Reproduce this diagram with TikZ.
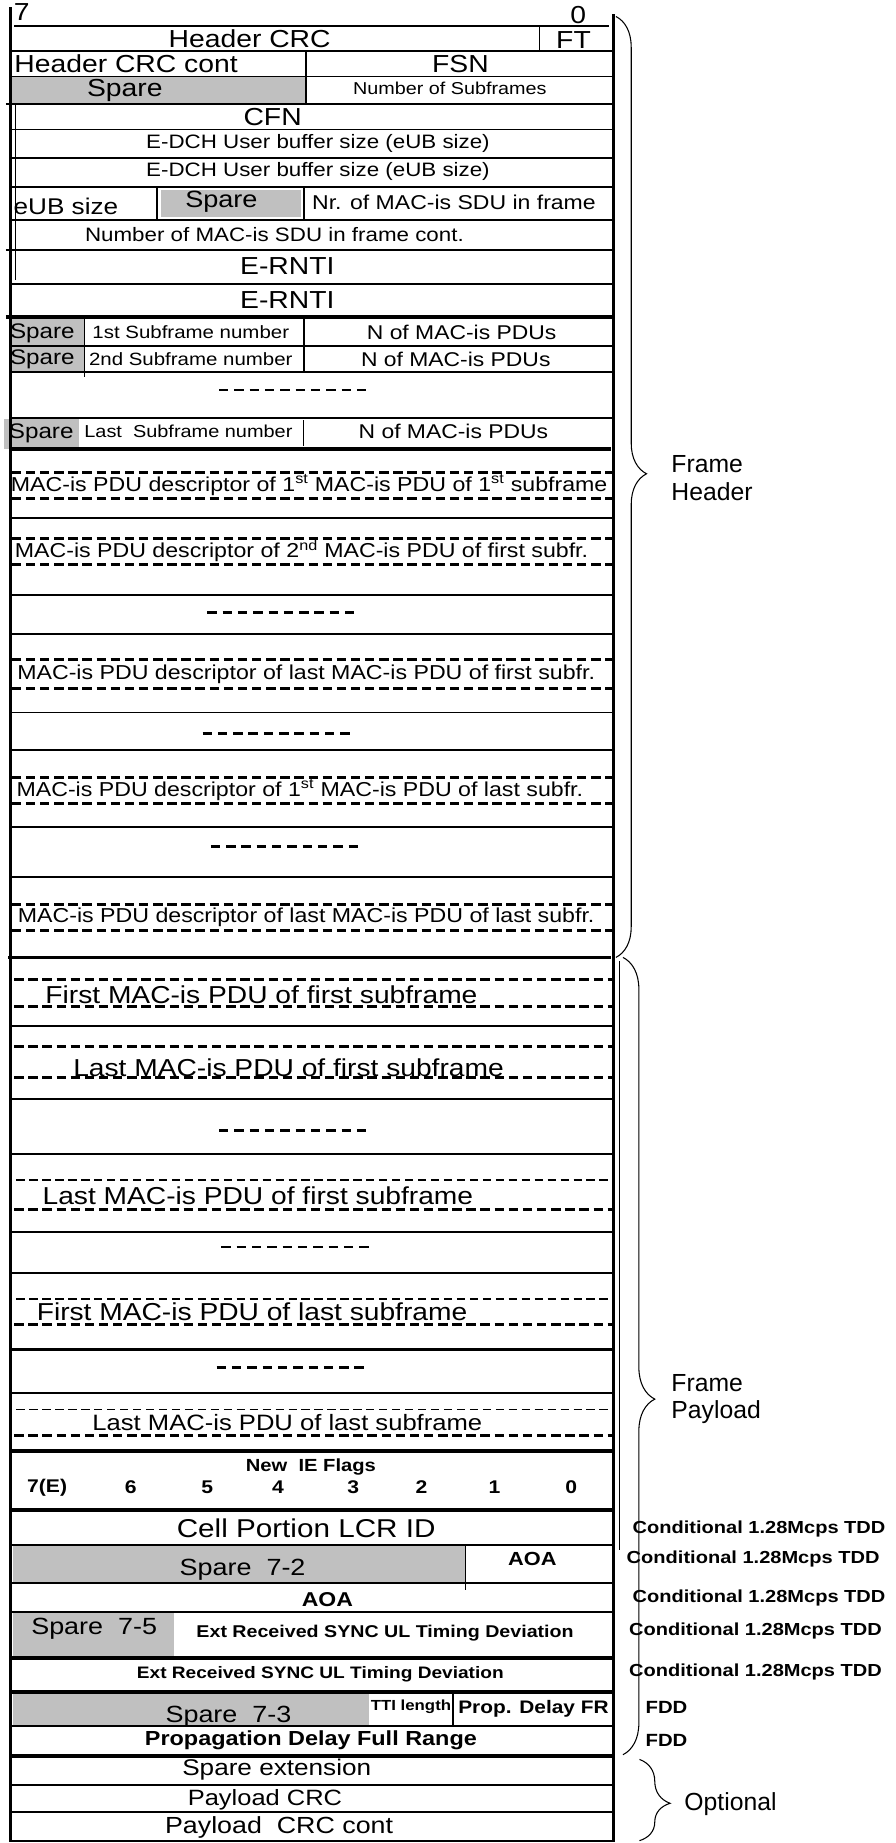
\documentclass[tikz,border=0pt]{standalone}
\usepackage{fontspec}
\setmainfont[FakeStretch=1.15]{Liberation Sans}
\newfontfamily\plainfont{Liberation Sans}
\usetikzlibrary{decorations.pathreplacing}
\definecolor{SpareGray}{HTML}{C0C0C0}

\begin{document}
\begin{tikzpicture}[x=1pt, y=-1pt,
    tx/.style={inner sep=0pt, font=\fontsize{#1}{#1}\selectfont},
    bx/.style={inner sep=0pt, font=\fontsize{#1}{#1}\selectfont\bfseries},
    side/.style={inner sep=0pt, anchor=west, align=left,
      font=\plainfont\fontsize{21}{23}\selectfont},
    rowline/.style={line width=1.6pt},
    heavyline/.style={line width=3.2pt},
    border/.style={line width=2.4pt},
    thinline/.style={line width=0.8pt},
    cutline/.style={line width=2.6pt, dash pattern=on 8pt off 4pt},
    cutlinethin/.style={line width=1.3pt, dash pattern=on 7pt off 4pt},
    gapmark/.style={line width=2.2pt, dash pattern=on 8pt off 5pt},
    curly/.style={line width=0.9pt, decorate}]
  % Page
  \useasboundingbox (0,0) rectangle (760,1565);
  \fill[white] (0,0) rectangle (760,1565);
  % Spare fields
  \fill[SpareGray] (10,65) rectangle (260,88);
  \fill[SpareGray] (137,161) rectangle (256,184);
  \fill[SpareGray] (9,271) rectangle (71,294);
  \fill[SpareGray] (9,295) rectangle (71,316);
  \fill[SpareGray] (3,356) rectangle (67,381);
  \fill[SpareGray] (11,1312) rectangle (395,1344);
  \fill[SpareGray] (11,1369) rectangle (148,1407);
  \fill[SpareGray] (11,1438) rectangle (313,1466);
  % Frame border
  \draw[border] (9,6) -- (9,1564);
  \draw[border] (521,12) -- (521,1564);
  \draw[thinline] (13,88) -- (13,238);
  \draw[thinline] (526,816) -- (526,1316);
  % Header rows
  \draw[rowline] (12,22) -- (517,22);
  \foreach \y in {43,65,110,134,159,187,241,294,316,355}
    \draw[rowline] (9,\y) -- (521,\y);
  \foreach \y in {88,212} \draw[rowline] (5,\y) -- (521,\y);
  \draw[heavyline] (5,269) -- (521,269);
  \draw[heavyline] (9,381) -- (519,381);
  \draw[thinline] (458,22) -- (458,43);
  \draw[rowline] (260,43) -- (260,88);
  \draw[rowline] (133,160) -- (133,186);
  \draw[rowline] (258,160) -- (258,187);
  \draw[thinline] (72,271) -- (72,320);
  \draw[rowline] (258,271) -- (258,316);
  \draw[thinline] (258,357) -- (258,379);
  % Descriptors
  \foreach \y in {401,423,457,479,560,585,660,682,768,790}
    \draw[cutline] (10,\y) -- (521,\y);
  \foreach \y in {440,505,538,605,637,702,745}
    \draw[rowline] (9,\y) -- (521,\y);
  \draw[heavyline] (7,813) -- (519,813);
  % Payload
  \foreach \y in {832,855,889,915,1027,1125,1219}
    \draw[cutline] (12,\y) -- (521,\y);
  \foreach \y in {1002,1103,1197} \draw[cutlinethin] (14,\y) -- (521,\y);
  \foreach \y in {871,933,980,1046,1081,1183}
    \draw[rowline] (9,\y) -- (521,\y);
  \foreach \y in {1146,1232} \draw[heavyline] (9,\y) -- (521,\y);
  % Gaps
  \draw[gapmark] (186,331) -- (313,331);
  \draw[gapmark] (176,520) -- (303,520);
  \draw[gapmark] (172,623) -- (298,623);
  \draw[gapmark] (179,719) -- (305,719);
  \draw[gapmark] (186,960) -- (311,960);
  \draw[gapmark] (188,1059) -- (313,1059);
  \draw[gapmark] (184,1161) -- (310,1161);
  % Trailer rows
  \foreach \y in {1282,1408,1437,1491} \draw[heavyline] (9,\y) -- (521,\y);
  \foreach \y in {1312,1344,1369,1466,1516,1539,1563}
    \draw[rowline] (9,\y) -- (521,\y);
  \draw[thinline] (395,1312) -- (395,1350);
  \draw[rowline] (385,1438) -- (385,1466);

  % Bit numbers
  \node[tx=20.9] (msb) at (18.5,10) {7};
  \node[tx=20.9] (lsb) at (491,13) {0};
  % Header fields
  \node[tx=20.9] (hcrc) at (212,33) {Header CRC};
  \node[tx=20.9] (ft) at (487,34) {FT};
  \node[tx=20.9, anchor=west] (hcrccont) at (12,54) {Header CRC cont};
  \node[tx=20.9] (fsn) at (391,54) {FSN};
  \node[tx=20.9] (spareA) at (106,77) {Spare};
  \node[tx=14.6] (nsub) at (382,75) {Number of Subframes};
  \node[tx=20.9] (cfn) at (231.5,99) {CFN};
  \node[tx=16.5] (eubA) at (270,122) {E-DCH User buffer size (eUB size)};
  \node[tx=16.5] (eubB) at (270,146) {E-DCH User buffer size (eUB size)};
  \node[tx=19.3] (eubC) at (56,175) {eUB size};
  \node[tx=20] (spareB) at (188,171) {Spare};
  \node[tx=17] (nsdu) at (385.5,172) {Nr. of MAC-is SDU in frame};
  \node[tx=16.5] (nsducont) at (233,199) {Number of MAC-is SDU in frame cont.};
  \node[tx=20.9] (erntiA) at (244,226) {E-RNTI};
  \node[tx=20.9] (erntiB) at (244,255) {E-RNTI};
  \node[tx=17.9] (spareC) at (36,283) {Spare};
  \node[tx=15.1] (sfA) at (162,282) {1st Subframe number};
  \node[tx=16.9] (npduA) at (392,282) {N of MAC-is PDUs};
  \node[tx=17.9] (spareD) at (36,305) {Spare};
  \node[tx=15.1] (sfB) at (162,305) {2nd Subframe number};
  \node[tx=16.9] (npduB) at (387,305) {N of MAC-is PDUs};
  \node[tx=17.9] (spareE) at (35,368) {Spare};
  \node[tx=14.7] (sfC) at (160,366) {Last\ \ Subframe number};
  \node[tx=16.9] (npduC) at (385,366) {N of MAC-is PDUs};
  \node[tx=17.1] (descA) at (262.5,412) {MAC-is PDU descriptor of 1\textsuperscript{st} MAC-is PDU of 1\textsuperscript{st} subframe};
  \node[tx=17.1] (descB) at (256,468) {MAC-is PDU descriptor of 2\textsuperscript{nd} MAC-is PDU of first subfr.};
  \node[tx=17.1] (descC) at (260,573) {MAC-is PDU descriptor of last MAC-is PDU of first subfr.};
  \node[tx=17.1] (descD) at (254.6,671) {MAC-is PDU descriptor of 1\textsuperscript{st} MAC-is PDU of last subfr.};
  \node[tx=17.1] (descE) at (260,779) {MAC-is PDU descriptor of last MAC-is PDU of last subfr.};
  % Payload fields
  \node[tx=20.8] (pduA) at (222,845) {First MAC-is PDU of first subframe};
  \node[tx=20.8, anchor=base] (pduB) at (245,914) {Last MAC-is PDU of first subframe};
  \node[tx=20.8] (pduC) at (219,1015) {Last MAC-is PDU of first subframe};
  \node[tx=20.8] (pduD) at (214,1114) {First MAC-is PDU of last subframe};
  \node[tx=18.9] (pduE) at (244,1208) {Last MAC-is PDU of last subframe};
  % Trailer fields
  \node[bx=14.9] (flags) at (264,1246) {New\ \ IE Flags};
  \node[bx=15.6] (bitE) at (40,1263) {7(E)};
  \foreach \x/\b in {111/6,176/5,236/4,300/3,358/2,420/1,485/0}
    \node[bx=15.6] (bit\b) at (\x,1263) {\b};
  \node[tx=21.9] (cell) at (260,1298) {Cell Portion LCR ID};
  \node[tx=19.9] (spareF) at (206,1333) {Spare\ \ 7-2};
  \node[bx=16.1] (aoaA) at (452,1324) {AOA};
  \node[bx=17] (aoaB) at (278,1358) {AOA};
  \node[tx=19.9] (spareG) at (80,1383) {Spare\ \ 7-5};
  \node[bx=14.5] (extA) at (327,1387) {Ext Received SYNC UL Timing Deviation};
  \node[bx=14.1] (extB) at (272,1422) {Ext Received SYNC UL Timing Deviation};
  \node[tx=19.9] (spareH) at (194,1458) {Spare\ \ 7-3};
  \node[bx=12.4] (tti) at (349,1449) {TTI length};
  \node[bx=15.4] (pdfr) at (453,1451) {Prop. Delay FR};
  \node[bx=17.3] (pdfull) at (264,1478) {Propagation Delay Full Range};
  \node[tx=19.3] (spext) at (235,1503) {Spare extension};
  \node[tx=18.8] (pcrc) at (225,1528) {Payload CRC};
  \node[tx=19.8] (pcrccont) at (237,1552) {Payload\ \ CRC cont};
  % Conditions
  \foreach \y/\x [count=\i] in {1298/537,1324/532,1357/537,1385/534,1420/534}
    \node[bx=14.8, anchor=west] (cond\i) at (\x,\y) {Conditional 1.28Mcps TDD};
  \node[bx=15, anchor=west] (fddA) at (548,1450) {FDD};
  \node[bx=15, anchor=west] (fddB) at (548,1478) {FDD};
  % Braces
  \coordinate (hdtop) at (523,14);
  \coordinate (hdbot) at (523,813);
  \coordinate (pltop) at (529,813);
  \coordinate (plbot) at (529,1490);
  \coordinate (optop) at (543,1494);
  \coordinate (opbot) at (543,1563);
  \draw[curly, decoration={brace, amplitude=26pt, aspect=0.486}] (hdtop) -- (hdbot);
  \draw[curly, decoration={brace, amplitude=27pt, aspect=0.554}] (pltop) -- (plbot);
  \draw[curly, decoration={brace, amplitude=26pt, aspect=0.54}] (optop) -- (opbot);
  \node[side] (hdlabel) at (570,406) {Frame\\Header};
  \node[side] (pllabel) at (570,1188) {Frame\\Payload};
  \node[side] (oplabel) at (581,1532) {Optional};
\end{tikzpicture}
\end{document}
